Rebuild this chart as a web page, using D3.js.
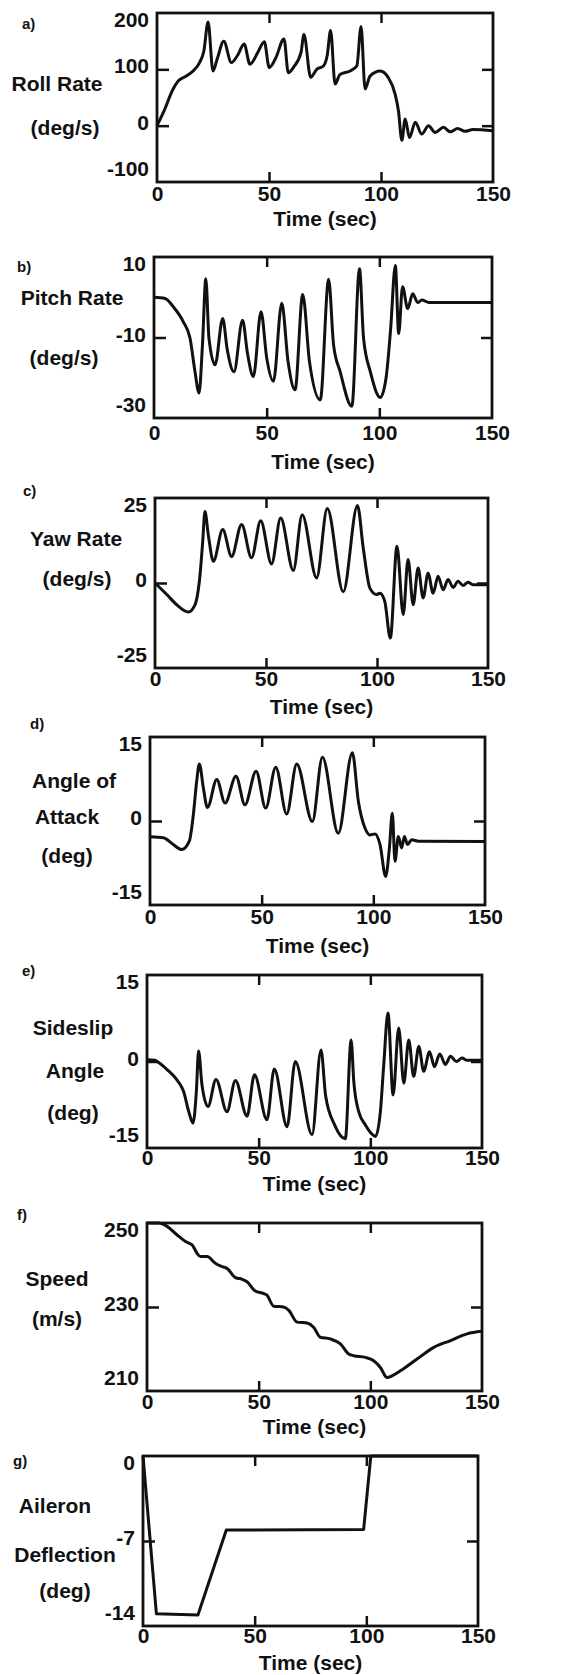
<!DOCTYPE html>
<html>
<head>
<meta charset="utf-8">
<script src="https://cdn.jsdelivr.net/npm/d3@7"></script>
<style>
  body { margin: 0; background: #fff; }
  svg text { font-family: "Liberation Sans", Arial, Helvetica, sans-serif; font-weight: bold; fill: #111; }
</style>
</head>
<body>
<div id="chart-area"></div>
<script>
// ---- data: [time (s), value] ----
const timeDomain = [0, 150];
const timeTicks = [0, 50, 100, 150];
const timeTitle = "Time (sec)";

const panelLetters = ["a)", "b)", "c)", "d)", "e)", "f)", "g)"];
const yTitles = [
	["Roll Rate", "(deg/s)"],
	["Pitch Rate", "(deg/s)"],
	["Yaw Rate", "(deg/s)"],
	["Angle of", "Attack", "(deg)"],
	["Sideslip", "Angle", "(deg)"],
	["Speed", "(m/s)"],
	["Aileron", "Deflection", "(deg)"]
];
const yDomains = [[-100, 200], [-30, 10], [-25, 25], [-15, 15], [-15, 15], [210, 250], [-14, 0]];
const yTicks = [[-100, 0, 100, 200], [-30, -10, 10], [-25, 0, 25], [-15, 0, 15], [-15, 0, 15], [210, 230, 250], [-14, -7, 0]];

const rollRate = [[0,0],[3,25],[7.2,65],[9.4,79],[13.1,88],[16.1,97],[19,112],[20.9,132],[22.8,184],[25,97],[27,120],
	[29.8,150],[33.2,112],[36,125],[38.9,145],[41.5,109],[45,130],[47.9,149],[50.1,103],[53,120],[56.7,154],[58.6,94],
	[61,104],[64.3,130],[65.6,162],[68.6,86],[71.3,100],[74.3,106],[76,125],[77.5,169],[79.5,74],[81.7,91],[86.2,97],
	[89.2,106],[91.1,176],[92.9,65],[95.1,88],[99.6,97],[103.3,85],[106.3,56],[107.8,26],[109.3,-26],[110.8,12],
	[112.7,-21],[115.3,6],[118.2,-15],[121.2,0],[124.2,-12],[127.9,-3],[130.9,-11],[134.2,-5],[137.5,-10],[141,-7],[150,-9]];

const pitchRate = [[0,0],[4.9,-0.3],[8.6,-2.4],[13,-6.1],[16,-10.2],[18.2,-18.5],[20,-23.8],[21.5,-11.9],[23,4.6],
	[24.4,-10.2],[27.1,-16.8],[30.5,-5.3],[32.5,-13],[35.5,-18.5],[39.3,-5.7],[41.5,-14],[44.1,-19.7],[47.5,-3.6],
	[50,-15],[53,-20.9],[56.7,-1.5],[59.5,-16],[62.6,-23],[66,0.7],[69,-16],[73.8,-25.5],[77.5,4.5],[79.7,-11.9],
	[82.6,-18.5],[87.8,-27.1],[91.2,7.1],[93,-10.2],[96,-18.5],[100.4,-24.9],[103,-20],[105,-8],[107.1,7.9],
	[108.6,-9],[110.3,2.6],[112.6,-2.8],[114.8,0.9],[117,-1.3],[118.9,-0.7],[122,-1.3],[150,-1.3]];

const yawRate = [[0,0],[5.3,-3.4],[9.8,-6.4],[15,-8.5],[18,-6.4],[20.3,2.5],[21.5,12.3],[22.5,21],[24,14.2],[26.3,6.4],
	[30.5,15.7],[34.5,7.8],[39,17.2],[43.5,7.4],[47.6,18.3],[52.5,5.6],[56.6,19.1],[62.3,3.7],[66.3,20.1],[72.8,1.5],
	[77.6,21.9],[84.8,-2.6],[91.2,22.8],[93.8,10.3],[96.8,-1.5],[99.8,-3.4],[101.3,-3],[103.5,-5.4],[106,-16.2],
	[109,10.8],[111.8,-9.3],[114,6.9],[116.3,-6.4],[118.5,4.4],[120.8,-4.4],[123,2.9],[125.3,-3],[127.5,2],[129.8,-2],
	[132,1],[134.3,-1.3],[136.5,0.5],[138.8,-0.7],[141,0.2],[143.3,-0.5],[150,-0.5]];

const angleOfAttack = [[0,-2.8],[6,-3],[10.4,-4.2],[14.2,-5.1],[17.6,-3.6],[19.4,1.1],[20.9,7.1],[22.1,10.2],[23.9,5.9],
	[25.7,2.4],[29.9,7.4],[33.6,3.2],[38.5,8],[42.5,2.9],[47.5,8.9],[51.8,2.3],[56.3,9.6],[61.2,1.25],[65.7,10.2],
	[72.7,-0.1],[77.2,11.4],[84.3,-2.2],[90.6,12.2],[93.3,3.5],[96.3,-1.3],[98.5,-2.5],[100.8,-2.3],[103,-4.2],
	[105.5,-9.9],[107.2,-4.8],[108.5,1.4],[109.7,-7.2],[111.2,-2.75],[112.7,-4.8],[113.9,-2.75],[115.3,-4.2],
	[117.2,-3.35],[120.2,-3.6],[150,-3.65]];

const sideslipAngle = [[0,0.3],[3.5,0.2],[4.5,0],[9,-1.4],[13.4,-3.2],[16.4,-5.2],[18.7,-8.7],[20.6,-10.7],[22.1,-5.2],
	[23.1,1.8],[24.6,-4],[27.3,-7.8],[30.9,-3.1],[35.8,-8.7],[39.6,-3.3],[44.8,-9.5],[48.1,-2.3],[53.7,-10.1],[57,-1.3],
	[62.7,-11.3],[66.4,0],[73.9,-12.7],[77.9,2],[80,-6],[84,-11],[88.8,-13.4],[91.4,3.75],[92.6,-3.5],[94.8,-8.7],
	[97.8,-11],[100.5,-12.5],[102.3,-13],[104.5,-8.7],[106,-0.6],[107.9,8.4],[110.2,-5.8],[112.7,5.8],[115,-3.75],
	[117.2,3.75],[119.4,-2.6],[121.7,2.6],[123.9,-1.7],[126.5,1.7],[128.7,-0.9],[131.1,1.3],[133.6,-0.5],[135.9,0.9],
	[138.5,0],[141.1,0.6],[143.3,0.2],[150,0.2]];

const speed = [[0,250],[5.2,250],[9,249.2],[13.4,247.2],[17.9,245.4],[20.2,244.8],[22.4,242.8],[23.9,242],[26.9,242],
	[30.6,240.4],[33.6,239.6],[35.8,239.2],[39.6,237],[42.6,236.6],[44.8,236],[48.5,233.8],[52.3,233.2],[53.7,232.8],
	[56.7,230.2],[61.2,230],[63.5,229.2],[67.2,226.4],[71.7,226.2],[74.6,225.2],[77.6,222.8],[82.1,222.4],[86.6,221.2],
	[90.3,218.8],[92.6,218.4],[97.8,218],[101.5,217.2],[104.5,215.6],[107.5,213.2],[109.7,213.6],[113.5,214.8],
	[120.9,217.6],[128.4,220.4],[135.9,222],[143.3,223.6],[150,224.2]];

const aileronDeflection = [[0,0],[6,-13],[24.6,-13.1],[37.3,-6.1],[98.8,-6.05],[102,0],[150,0]];

const series = [rollRate, pitchRate, yawRate, angleOfAttack, sideslipAngle, speed, aileronDeflection];

// ---- layout (page pixels) ----
const panels = [
	{x0: 157, x1: 493, y0: 13, y1: 182, xGap: 11, titleGap: 36, letter: [22, 23], lines: [[57, 83], [65, 127]]},
	{x0: 154, x1: 492, y0: 257, y1: 418, xGap: 14, titleGap: 43, letter: [17, 266], lines: [[72, 297], [64, 357]]},
	{x0: 155, x1: 488, y0: 498, y1: 668, xGap: 10, titleGap: 38, letter: [23, 490], lines: [[76, 538], [77, 578]]},
	{x0: 150, x1: 485, y0: 737, y1: 905, xGap: 11, titleGap: 40, letter: [30, 723], lines: [[74, 780], [67, 816], [67, 855]]},
	{x0: 147, x1: 482, y0: 975, y1: 1148, xGap: 9, titleGap: 35, letter: [22, 970], lines: [[73, 1027], [75, 1070], [73, 1112]]},
	{x0: 147, x1: 482, y0: 1223, y1: 1391, xGap: 10, titleGap: 35, letter: [17, 1214], lines: [[57, 1278], [57, 1318]]},
	{x0: 143, x1: 478, y0: 1456, y1: 1626, xGap: 9, titleGap: 36, letter: [13, 1460], lines: [[55, 1505], [65, 1554], [65, 1590]]}
];

var width = 588, height = 1675;
var svg = d3.select("#chart-area").append("svg")
	.attr("width", width)
	.attr("height", height);

const ink = "#111";
// plain hyphen for negatives, like the original figure
const plain = d => String(d);

panels.forEach((p, i) => {
	const x = d3.scaleLinear().domain(timeDomain).range([p.x0, p.x1]);
	const y = d3.scaleLinear().domain(yDomains[i]).range([p.y1, p.y0]);
	const [dMin, dMax] = yDomains[i];
	const inner = yTicks[i].filter(v => v > dMin && v < dMax);
	const g = svg.append("g").attr("class", "panel");

	// curve
	const line = d3.line()
		.x(d => x(d[0]))
		.y(d => y(d[1]))
		.curve(i === 6 ? d3.curveLinear : d3.curveMonotoneX);
	g.append("path")
		.datum(series[i])
		.attr("d", line)
		.attr("fill", "none")
		.attr("stroke", ink)
		.attr("stroke-width", 3)
		.attr("stroke-linejoin", "round");

	// frame
	g.append("rect")
		.attr("x", p.x0).attr("y", p.y0)
		.attr("width", p.x1 - p.x0).attr("height", p.y1 - p.y0)
		.attr("fill", "none")
		.attr("stroke", ink)
		.attr("stroke-width", 2.8);

	// inward ticks on all four sides
	const tickStyle = sel => {
		sel.select(".domain").remove();
		sel.selectAll("line").attr("stroke", ink).attr("stroke-width", 2.5);
	};
	g.append("g").attr("transform", `translate(${p.x0},0)`)
		.call(d3.axisRight(y).tickValues(inner).tickSize(12).tickFormat(""))
		.call(tickStyle);
	g.append("g").attr("transform", `translate(${p.x1},0)`)
		.call(d3.axisLeft(y).tickValues(inner).tickSize(11).tickFormat(""))
		.call(tickStyle);
	g.append("g").attr("transform", `translate(0,${p.y0})`)
		.call(d3.axisBottom(x).tickValues([50, 100]).tickSize(10).tickFormat(""))
		.call(tickStyle);
	g.append("g").attr("transform", `translate(0,${p.y1})`)
		.call(d3.axisTop(x).tickValues([50, 100]).tickSize(10).tickFormat(""))
		.call(tickStyle);

	// y tick labels (end labels sit a little inside the frame, as in the scan)
	const yAxis = g.append("g").attr("transform", `translate(${p.x0},0)`)
		.call(d3.axisLeft(y).tickValues(yTicks[i]).tickSize(0).tickPadding(8).tickFormat(plain));
	yAxis.select(".domain").remove();
	yAxis.selectAll("text")
		.style("font-size", "21px")
		.attr("dy", null)
		.attr("dominant-baseline", "central")
		.attr("y", v => v === dMax ? 6 : (v === dMin ? -14 : -4));

	// x tick labels
	const xAxis = g.append("g").attr("transform", `translate(0,${p.y1})`)
		.call(d3.axisBottom(x).tickValues(timeTicks).tickSize(0).tickFormat(plain));
	xAxis.select(".domain").remove();
	xAxis.selectAll("text")
		.style("font-size", "21px")
		.attr("dy", null)
		.attr("dominant-baseline", "central")
		.attr("y", p.xGap);

	g.append("text")
		.attr("x", (p.x0 + p.x1) / 2)
		.attr("y", p.y1 + p.titleGap)
		.attr("text-anchor", "middle")
		.attr("dominant-baseline", "central")
		.style("font-size", "21px")
		.text(timeTitle);

	// panel letter
	g.append("text")
		.attr("x", p.letter[0])
		.attr("y", p.letter[1])
		.attr("dominant-baseline", "central")
		.style("font-size", "15px")
		.text(panelLetters[i]);

	// y title, one line per text
	yTitles[i].forEach((t, k) => {
		g.append("text")
			.attr("x", p.lines[k][0])
			.attr("y", p.lines[k][1])
			.attr("text-anchor", "middle")
			.attr("dominant-baseline", "central")
			.style("font-size", "21px")
			.text(t);
	});
});
</script>
</body>
</html>
